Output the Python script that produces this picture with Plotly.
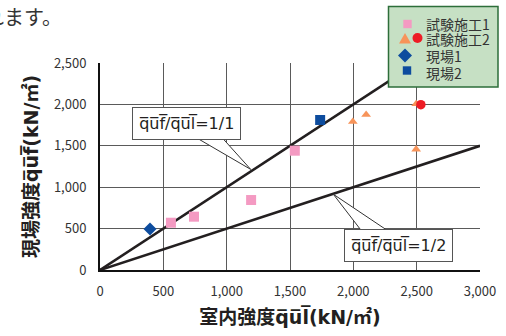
import plotly.graph_objects as go

# ---- data ----
test1_x = [560, 742, 1193, 1538]
test1_y = [571, 644, 845, 1441]
test2_tri_x = [1996, 2101, 2496, 2496]
test2_tri_y = [1791, 1876, 2005, 1458]
test2_cir_x = [2533]
test2_cir_y = [1996]
field1_x = [395]
field1_y = [495]
field2_x = [1738]
field2_y = [1812]
ratios = [1.0, 0.5]
ratio_labels = ["1/1", "1/2"]
line_x = [0, 3000]
x_ticks = [0, 500, 1000, 1500, 2000, 2500, 3000]
y_ticks = [0, 500, 1000, 1500, 2000, 2500]
legend_names = ["試験施工1", "試験施工2", "現場1", "現場2"]

JP = "Noto Sans CJK JP"
LAT = "DejaVu Sans, Noto Sans CJK JP"
DARK = "#231F20"
PINK = "#F49AC2"
ORANGE = "#F7945A"
RED = "#EE1C25"
BLUE = "#0D4C9E"


def ol(s):
    return "".join(c + "\u0305" for c in s)


# plot area in pixels
L, R, T, B = 100, 480, 63, 270


def px(x):
    return (x - L) / (R - L)


def py(y):
    return (B - y) / (B - T)


fig = go.Figure()

for r in ratios:
    fig.add_trace(go.Scatter(x=line_x, y=[v * r for v in line_x], mode="lines",
                             line=dict(color=DARK, width=2.6), showlegend=False,
                             hoverinfo="skip"))

fig.add_trace(go.Scatter(x=test1_x, y=test1_y, mode="markers", name=legend_names[0],
                         marker=dict(symbol="square", size=10, color=PINK)))
fig.add_trace(go.Scatter(x=test2_tri_x, y=test2_tri_y, mode="markers", name=legend_names[1],
                         marker=dict(symbol="triangle-up", size=8.5, color=ORANGE)))
fig.add_trace(go.Scatter(x=test2_cir_x, y=test2_cir_y, mode="markers", name=legend_names[1],
                         marker=dict(symbol="circle", size=9.5, color=RED)))
fig.add_trace(go.Scatter(x=field1_x, y=field1_y, mode="markers", name=legend_names[2],
                         marker=dict(symbol="diamond", size=10, color=BLUE)))
fig.add_trace(go.Scatter(x=field2_x, y=field2_y, mode="markers", name=legend_names[3],
                         marker=dict(symbol="square", size=10, color=BLUE)))

axis_common = dict(showgrid=True, gridcolor="#5a5a5a", gridwidth=1, zeroline=False,
                   showline=True, linecolor="#111", linewidth=2, ticks="",
                   automargin=False,
                   tickfont=dict(family=JP, size=13, color="#333"), tickformat=",")

fig.update_xaxes(range=[0, 3000], tickvals=x_ticks, ticklabelstandoff=8, **axis_common,
                 title=dict(text="<b>室内強度" + ol("qul") + "(kN/㎡)</b>",
                            font=dict(family=LAT, size=19, color=DARK), standoff=12))
fig.update_yaxes(range=[0, 2500], tickvals=y_ticks, ticklabelstandoff=9, **axis_common,
                 title=dict(text="<b>現場強度" + ol("quf") + "(kN/㎡)</b>",
                            font=dict(family=LAT, size=19, color=DARK), standoff=10))

# callout wedges (pointer from label box to the ratio line)
fig.add_shape(type="path", xref="x", yref="y", layer="above",
              path="M 758 1600 L 1190 1215 L 963 1600 Z",
              fillcolor="white", line=dict(color="#333", width=1))
fig.add_shape(type="path", xref="x", yref="y", layer="above",
              path="M 2066 470 L 1842 915 L 2276 470 Z",
              fillcolor="white", line=dict(color="#333", width=1))

for r_lab, (ax, ay) in zip(ratio_labels, [(683, 1775), (2360, 290)]):
    fig.add_annotation(x=ax, y=ay, xref="x", yref="y", showarrow=False,
                       text=ol("quf") + "/" + ol("qul") + "=" + r_lab,
                       font=dict(family=LAT, size=16, color=DARK),
                       bgcolor="white", bordercolor="#555", borderwidth=1, borderpad=6)

# ---- hand-built legend box ----
fig.add_shape(type="rect", xref="paper", yref="paper", layer="above",
              x0=px(388.5), x1=px(498), y0=py(87), y1=py(6.5),
              fillcolor="#C6E0C4", line=dict(color="#2D6E3A", width=1.5))
row_y = [24, 39, 56, 73]
for name, ry in zip(legend_names, row_y):
    fig.add_annotation(x=px(424), y=py(ry), xref="paper", yref="paper", showarrow=False,
                       xanchor="left", yanchor="middle", text=name,
                       font=dict(family=JP, size=14, color="#333"))


def sq(cx, cy, h, color):
    fig.add_shape(type="rect", xref="paper", yref="paper", layer="above",
                  x0=px(cx - h), x1=px(cx + h), y0=py(cy + h), y1=py(cy - h),
                  fillcolor=color, line=dict(width=0))


def poly(pts, color):
    d = "M " + " L ".join(f"{px(a):.5f} {py(b):.5f}" for a, b in pts) + " Z"
    fig.add_shape(type="path", xref="paper", yref="paper", layer="above",
                  path=d, fillcolor=color, line=dict(width=0))


sq(407.5, 24, 4.2, PINK)
poly([(399, 43.5), (411, 43.5), (405, 33)], ORANGE)
fig.add_shape(type="circle", xref="paper", yref="paper", layer="above",
              x0=px(412.5), x1=px(422.5), y0=py(43), y1=py(33),
              fillcolor=RED, line=dict(width=0))
poly([(398, 55.5), (405, 48.5), (412, 55.5), (405, 62.5)], BLUE)
sq(407, 70.5, 4.2, BLUE)

# top text fragment
fig.add_annotation(x=px(64), y=py(16), xref="paper", yref="paper",
                   xanchor="right", yanchor="middle", showarrow=False,
                   text="れます。", font=dict(family=JP, size=20, color="#333"))

fig.update_layout(
    width=506, height=336,
    margin=dict(l=L, r=506 - R, t=T, b=336 - B, autoexpand=False),
    paper_bgcolor="white", plot_bgcolor="white",
    showlegend=False,
)

fig.write_html("out.html", config={"displayModeBar": False},
               post_script="document.body.style.margin='0';document.body.style.overflow='hidden';")
